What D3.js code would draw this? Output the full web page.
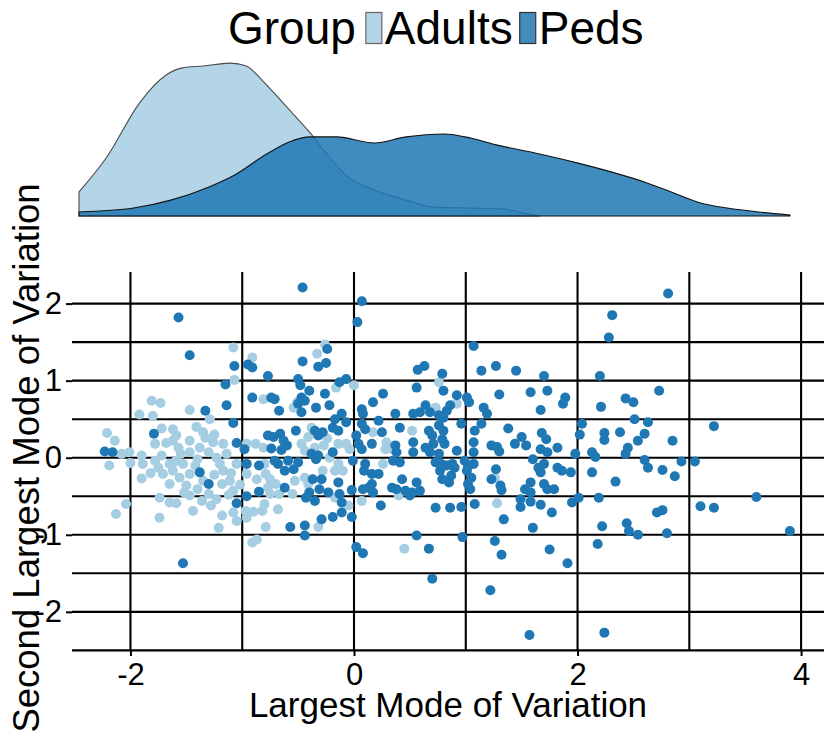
<!DOCTYPE html>
<html><head><meta charset="utf-8">
<script src="https://cdn.jsdelivr.net/npm/d3@7"></script>
<style>html,body{margin:0;padding:0;background:#fff}svg{display:block}text{font-family:"Liberation Sans",Arial,sans-serif;fill:#000}</style>
</head><body><svg id="c" width="830" height="738"></svg>
<script>
// ---------- data ----------
const groups = ["Adults", "Peds"];
const pointColors = ["#a6cee3", "#1f78b4"];
const xTicks = [-2, 0, 2, 4];
const yTicks = [-2, -1, 0, 1, 2];
const xGridMinor = [-1, 1, 3];
const yGridMinor = [-2.5, -1.5, -0.5, 0.5, 1.5];

const adultsX = [-1.07,-1.81,-1.73,-1.92,-1.80,-1.47,-1.29,-1.41,-1.72,-1.62,-1.59,-1.68,-1.78,-2.21,-2.14,-2.08,-2.01,-2.19,-2.00,-1.90,-1.89,-1.90,-1.78,-1.72,-1.75,-1.65,-1.57,-1.47,-1.47,-1.33,-1.26,-1.38,-1.30,-1.17,-1.14,-1.23,-1.40,-1.53,-1.62,-1.71,-1.65,-1.56,-1.47,-1.50,-1.40,-1.30,-1.23,-1.17,-1.11,-1.18,-1.08,-1.05,-0.96,-0.88,-0.81,-0.96,-0.87,-0.79,-1.08,-0.97,-0.90,-0.82,-1.05,-0.96,-0.79,-0.91,-0.87,-1.18,-1.21,-1.44,-1.65,-1.59,-1.74,-1.74,-2.04,-2.13,-1.36,-1.47,-0.81,
 -0.16,0.00,-0.51,-0.54,0.52,0.76,0.73,-0.47,-0.41,-0.38,-0.44,-0.35,-0.27,-0.24,-0.14,-0.07,-0.04,-0.22,-0.14,-0.17,-0.10,-0.28,-0.80,-0.75,-0.77,-0.70,-0.67,-0.75,-0.80,-0.53,-0.55,-0.44,-0.41,-0.17,-0.05,-0.32,-0.68,0.07,0.26,0.40,0.17,0.29,0.28,0.34,0.45,
 0.92,1.26,1.28,-1.08,-0.91,-0.26,-0.33,
 -1.62,-1.55,-1.42,-1.35,-1.25,-1.20,-1.10,-1.02,-1.12,-1.28,-1.52,-1.60,-1.82,-1.25,-1.35];
const adultsY = [1.01,0.74,0.71,0.56,0.54,0.62,0.50,0.40,0.38,0.37,0.29,0.19,0.18,0.32,0.22,0.05,0.07,-0.10,-0.07,0.03,-0.08,-0.27,-0.04,0.03,-0.13,-0.08,0.13,0.22,0.07,0.26,0.20,0.13,0.07,0.18,0.05,0.00,-0.02,-0.08,-0.17,-0.21,-0.34,-0.26,-0.21,-0.36,-0.41,-0.47,-0.54,-0.17,-0.30,-0.34,-0.43,-0.08,0.18,0.18,0.13,-0.21,-0.28,-0.21,-0.71,-0.69,-0.70,-0.69,-0.82,-0.78,-0.90,-1.10,-1.06,-0.75,-0.91,-0.69,-0.58,-0.59,-0.52,-0.78,-0.60,-0.73,-0.56,-0.49,0.76,
 0.91,0.94,0.72,0.65,0.35,0.98,0.65,0.18,0.27,0.39,0.09,0.13,0.16,0.25,0.18,0.18,0.11,0.00,-0.08,-0.17,-0.17,-0.17,-0.08,-0.28,-0.39,-0.34,-0.47,-0.47,-0.60,-0.30,-0.47,-0.26,-0.34,-0.52,-0.62,-0.90,-0.67,-0.56,-0.08,-0.49,0.33,0.20,0.11,0.11,-1.18,
 0.70,-0.26,-0.59,1.43,1.30,1.47,1.35,
 0.22,0.05,-0.10,-0.30,-0.22,-0.08,-0.20,-0.35,-0.48,-0.62,-0.45,-0.05,-0.20,0.30,0.33];

const pedsX = [-1.15,-0.91,-1.33,-1.14,-1.08,-1.79,-2.23,-2.16,-1.38,-1.30,-1.05,-0.98,-0.96,-0.85,-0.85,-0.96,-1.05,
 -0.46,0.07,-1.57,0.03,2.81,2.31,2.28,1.07,-1.47,-1.07,-0.95,-0.91,-0.24,-0.46,-0.25,-0.32,0.63,0.57,1.14,1.27,1.45,
 -0.77,-0.50,-0.48,-0.13,-0.07,-0.40,-0.26,-0.47,-0.74,-0.71,-0.67,-0.50,-0.44,-0.47,-0.34,-0.22,-0.11,-0.17,-0.19,-0.14,-0.07,0.07,0.08,0.07,0.17,0.26,0.22,0.37,0.41,0.56,0.79,0.53,0.59,0.64,0.68,0.76,0.67,0.70,0.76,0.79,0.71,0.64,0.68,0.76,0.73,0.77,0.79,0.53,0.56,0.73,0.56,0.67,-0.77,-0.72,-0.66,-0.63,-0.60,-0.65,-0.74,-0.52,-0.35,-0.32,-0.28,-0.38,-0.32,-0.34,-0.50,-0.59,-0.71,-0.68,-0.62,-0.54,-0.19,-0.01,-0.62,-0.37,-0.29,-0.31,-0.40,-0.43,-0.35,-0.23,-0.14,-0.13,-0.11,-0.11,-0.02,-0.19,-0.29,-0.44,-0.57,-0.44,-0.02,0.09,0.10,0.16,0.22,0.13,0.17,0.08,0.16,0.24,0.35,0.41,0.43,0.34,0.38,0.46,0.50,0.52,0.59,0.10,0.16,0.07,0.02,0.04,0.25,0.37,0.38,0.53,
 1.70,2.20,0.80,0.92,1.01,1.03,0.83,0.86,0.80,1.16,1.19,1.30,1.58,1.73,1.67,1.89,1.87,2.21,0.96,1.14,1.08,1.38,1.50,1.44,1.54,1.68,1.72,1.67,1.73,1.82,2.04,2.02,2.24,2.24,2.13,2.16,1.98,0.80,0.81,0.92,1.07,1.07,0.78,0.83,0.90,0.99,1.02,1.07,1.01,1.05,1.02,1.04,0.87,0.85,0.88,1.23,1.28,1.30,1.27,1.23,1.31,1.32,1.60,1.65,1.70,1.67,1.82,1.86,1.94,1.58,1.53,1.58,1.70,1.73,1.79,2.13,1.49,1.49,1.58,1.67,1.77,1.34,1.60,0.86,0.96,1.08,1.95,2.01,2.19,2.22,0.97,1.26,1.75,2.18,
 2.73,2.43,2.50,2.51,2.63,2.38,2.60,2.54,2.85,2.45,2.43,3.22,2.60,2.63,2.76,2.87,2.93,3.05,2.34,3.60,3.10,3.22,2.71,2.76,2.44,2.46,2.54,2.80,3.90,
 -1.53,0.02,0.08,1.32,1.91,0.70,1.22,1.57,2.24];
const pedsY = [0.95,0.78,0.61,0.68,0.45,0.31,0.08,0.07,-0.19,-0.34,0.19,0.11,-0.08,-0.10,-0.44,-0.50,-0.59,
 2.21,2.03,1.82,1.76,2.13,1.85,1.56,1.45,1.33,1.19,1.21,1.17,1.41,1.25,1.23,1.18,1.19,1.14,1.13,1.19,1.13,
 1.06,1.02,0.94,0.98,1.02,0.87,0.83,0.78,0.78,0.76,0.61,0.70,0.74,0.59,0.65,0.68,0.57,0.50,0.39,0.35,0.46,0.63,0.57,0.44,0.72,0.83,0.48,0.57,0.39,0.91,1.09,0.57,0.59,0.68,0.59,0.55,0.35,0.29,0.42,0.24,0.18,0.13,0.07,0.05,-0.06,-0.17,-0.28,0.07,-0.32,-0.65,-1.01,-1.18,0.29,0.27,0.31,0.22,0.16,0.10,0.12,0.35,0.35,0.29,0.33,0.05,0.03,-0.02,-0.06,-0.04,-0.04,-0.08,-0.17,-0.15,0.07,-0.04,-0.39,-0.28,-0.28,-0.41,-0.45,-0.52,-0.56,-0.45,-0.32,-0.47,-0.58,-0.71,-0.77,-0.77,-0.80,-0.88,-0.90,-1.01,-0.42,-0.17,-0.08,-0.21,-0.21,-0.39,-0.45,-0.41,-0.34,-0.62,-0.04,-0.06,-0.28,-0.39,-0.41,-0.43,-0.49,-0.45,-0.43,0.37,0.18,0.11,0.29,0.18,0.33,0.16,0.07,0.20,
 1.06,1.06,0.87,0.81,0.78,0.72,0.61,0.68,0.52,0.65,0.57,0.82,0.85,0.87,0.62,0.78,0.70,0.66,0.44,0.44,0.35,0.38,0.27,0.18,0.16,0.32,0.24,0.11,0.07,0.13,0.44,0.30,0.32,0.23,0.07,0.01,0.05,0.35,0.18,0.09,0.20,0.07,-0.08,-0.10,-0.13,-0.04,-0.11,-0.08,-0.17,-0.26,-0.34,-0.41,-0.23,-0.32,-0.08,0.16,0.14,0.08,-0.15,-0.28,-0.36,-0.42,-0.02,-0.13,-0.08,-0.19,-0.13,-0.17,-0.19,-0.32,-0.41,-0.45,-0.34,-0.41,-0.41,-0.19,-0.54,-0.64,-0.57,-0.61,-0.71,-0.80,-0.91,-0.65,-0.64,-0.60,-0.58,-0.52,-0.52,-0.89,-1.03,-1.08,-1.19,-1.12,
 0.87,0.77,0.72,0.50,0.46,0.33,0.31,0.22,0.22,0.13,0.05,0.41,-0.03,-0.13,-0.16,-0.24,-0.05,-0.05,-0.31,-0.51,-0.63,-0.65,-0.71,-0.68,-0.85,-0.95,-1.00,-0.98,-0.95,
 -1.37,-1.16,-1.24,-1.26,-1.37,-1.57,-1.72,-2.30,-2.27];

// marginal density curves
const adultsDensX = [-2.21,-1.97,-1.69,-1.46,-1.32,-1.14,-0.91,-0.77,-0.635,-0.50,-0.36,-0.22,-0.084,0.106,0.33,0.605,0.837,1.164,1.44,1.62,1.76];
const adultsDensY = [0.091,0.223,0.427,0.533,0.560,0.567,0.578,0.567,0.514,0.450,0.382,0.314,0.238,0.147,0.098,0.060,0.034,0.030,0.026,0.011,0];
const pedsDensX = [-2.21,-1.74,-1.42,-1.09,-0.87,-0.635,-0.40,-0.22,0.01,0.33,0.605,0.93,1.16,1.39,1.715,2.085,2.40,2.68,2.91,3.14,3.37,3.64,3.91];
const pedsDensY = [0.015,0.030,0.060,0.110,0.155,0.223,0.280,0.299,0.299,0.276,0.299,0.310,0.295,0.268,0.238,0.200,0.163,0.125,0.087,0.049,0.030,0.015,0.004];

// ---------- drawing ----------
const svg = d3.select("#c");
const font = '"Liberation Sans",Arial,sans-serif';

const x = d3.scaleLinear().domain([-2.523, 4.205]).range([72, 824]);
const y = d3.scaleLinear().domain([-2.508, 2.41]).range([651, 272]);
const dx = d3.scaleLinear().domain([-2.21, 3.91]).range([79, 790]);
const dy = d3.scaleLinear().domain([0, 0.62]).range([216, 52]);

// grid
const grid = svg.append("g");
const yAll = yTicks.concat(yGridMinor);
grid.selectAll("line.h").data(yAll).join("line")
  .attr("x1", 72).attr("x2", 824)
  .attr("y1", d => y(d)).attr("y2", d => y(d))
  .attr("stroke", "#000").attr("stroke-width", 2.1);
const xAll = xTicks.concat(xGridMinor);
grid.selectAll("line.v").data(xAll).join("line")
  .attr("x1", d => x(d)).attr("x2", d => x(d))
  .attr("y1", 272).attr("y2", 651)
  .attr("stroke", "#000").attr("stroke-width", 2.1);

// axes (ticks + labels)
const xAxis = d3.axisBottom(x).tickValues(xTicks).tickSize(5).tickPadding(7).tickFormat(d3.format("d"));
const gx = svg.append("g").attr("transform", "translate(0,651)").call(xAxis);
gx.select(".domain").remove();
gx.selectAll(".tick line").attr("stroke", "#000").attr("stroke-width", 2);
gx.selectAll(".tick text").attr("font-family", font).attr("font-size", 31).attr("fill", "#000")
  .text(d => d < 0 ? "-" + Math.abs(d) : d);

const yAxis = d3.axisLeft(y).tickValues(yTicks).tickSize(6).tickPadding(4).tickFormat(d3.format("d"));
const gy = svg.append("g").attr("transform", "translate(72,0)").call(yAxis);
gy.select(".domain").remove();
gy.selectAll(".tick line").attr("stroke", "#000").attr("stroke-width", 2);
gy.selectAll(".tick text").attr("font-family", font).attr("font-size", 31).attr("fill", "#000")
  .text(d => d < 0 ? "-" + Math.abs(d) : d);

// points
const adults = adultsX.map((v, i) => ({x: v, y: adultsY[i], g: 0}));
const peds = pedsX.map((v, i) => ({x: v, y: pedsY[i], g: 1}));
svg.append("g").selectAll("circle").data(adults.concat(peds)).join("circle")
  .attr("cx", d => x(d.x)).attr("cy", d => y(d.y)).attr("r", 5)
  .attr("fill", d => pointColors[d.g]);

// density (semi-transparent fills, Peds on top)
const line = d3.line().x(d => dx(d[0])).y(d => dy(d[1])).curve(d3.curveMonotoneX);
const area = d3.area().x(d => dx(d[0])).y0(dy(0)).y1(d => dy(d[1])).curve(d3.curveMonotoneX);
const dens = [adultsDensX.map((v, i) => [v, adultsDensY[i]]), pedsDensX.map((v, i) => [v, pedsDensY[i]])];
dens.forEach((pts, g) => {
  svg.append("path").attr("d", area(pts)).attr("fill", pointColors[g]).attr("fill-opacity", 0.85);
  const first = pts[0], last = pts[pts.length - 1];
  const outline = "M" + dx(first[0]) + "," + dy(0) + line(pts).replace(/^M/, "L") + "L" + dx(last[0]) + "," + dy(0) + "Z";
  svg.append("path").attr("d", outline).attr("fill", "none")
    .attr("stroke", g === 0 ? "#4a4a4a" : "#111").attr("stroke-width", 1.1);
});

// legend
const leg = svg.append("g");
const t0 = leg.append("text").attr("x", 228).attr("y", 44).attr("font-family", font).attr("font-size", 46).text("Group");
let cx = 228 + t0.node().getComputedTextLength() + 10;
groups.forEach((g, i) => {
  leg.append("rect").attr("x", cx).attr("y", 12.5).attr("width", 16).attr("height", 31)
    .attr("fill", pointColors[g === "Adults" ? 0 : 1]).attr("fill-opacity", 0.85)
    .attr("stroke", i === 0 ? "#666" : "#333").attr("stroke-width", 1.2);
  const t = leg.append("text").attr("x", cx + 19).attr("y", 44).attr("font-family", font).attr("font-size", 46).text(g);
  cx += 19 + t.node().getComputedTextLength() + 7;
});

// axis titles
svg.append("text").attr("x", 448).attr("y", 717).attr("text-anchor", "middle")
  .attr("font-family", font).attr("font-size", 35).text("Largest Mode of Variation");
svg.append("text").attr("transform", "translate(39,458) rotate(-90)").attr("text-anchor", "middle")
  .attr("font-family", font).attr("font-size", 36.5).text("Second Largest Mode of Variation");
</script></body></html>
